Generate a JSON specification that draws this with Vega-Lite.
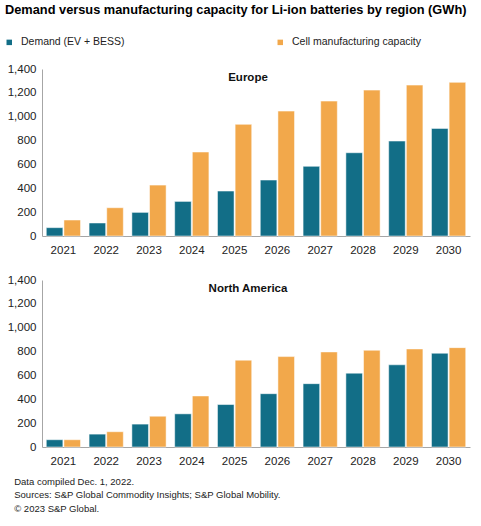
{
  "$schema": "https://vega.github.io/schema/vega-lite/v6.json",
  "padding": {"left": 4, "right": 6, "top": 4, "bottom": 5},
  "background": "white",
  "datasets": {
    "d": [
      {"region": "Europe", "year": "2021", "series": "Demand (EV + BESS)", "value": 70},
      {"region": "Europe", "year": "2022", "series": "Demand (EV + BESS)", "value": 109},
      {"region": "Europe", "year": "2023", "series": "Demand (EV + BESS)", "value": 198},
      {"region": "Europe", "year": "2024", "series": "Demand (EV + BESS)", "value": 290},
      {"region": "Europe", "year": "2025", "series": "Demand (EV + BESS)", "value": 377},
      {"region": "Europe", "year": "2026", "series": "Demand (EV + BESS)", "value": 469},
      {"region": "Europe", "year": "2027", "series": "Demand (EV + BESS)", "value": 584},
      {"region": "Europe", "year": "2028", "series": "Demand (EV + BESS)", "value": 698},
      {"region": "Europe", "year": "2029", "series": "Demand (EV + BESS)", "value": 796},
      {"region": "Europe", "year": "2030", "series": "Demand (EV + BESS)", "value": 902},
      {"region": "Europe", "year": "2021", "series": "Cell manufacturing capacity", "value": 134},
      {"region": "Europe", "year": "2022", "series": "Cell manufacturing capacity", "value": 237},
      {"region": "Europe", "year": "2023", "series": "Cell manufacturing capacity", "value": 427},
      {"region": "Europe", "year": "2024", "series": "Cell manufacturing capacity", "value": 704},
      {"region": "Europe", "year": "2025", "series": "Cell manufacturing capacity", "value": 936},
      {"region": "Europe", "year": "2026", "series": "Cell manufacturing capacity", "value": 1047},
      {"region": "Europe", "year": "2027", "series": "Cell manufacturing capacity", "value": 1131},
      {"region": "Europe", "year": "2028", "series": "Cell manufacturing capacity", "value": 1223},
      {"region": "Europe", "year": "2029", "series": "Cell manufacturing capacity", "value": 1265},
      {"region": "Europe", "year": "2030", "series": "Cell manufacturing capacity", "value": 1288},
      {"region": "North America", "year": "2021", "series": "Demand (EV + BESS)", "value": 61},
      {"region": "North America", "year": "2022", "series": "Demand (EV + BESS)", "value": 108},
      {"region": "North America", "year": "2023", "series": "Demand (EV + BESS)", "value": 192},
      {"region": "North America", "year": "2024", "series": "Demand (EV + BESS)", "value": 278},
      {"region": "North America", "year": "2025", "series": "Demand (EV + BESS)", "value": 356},
      {"region": "North America", "year": "2026", "series": "Demand (EV + BESS)", "value": 447},
      {"region": "North America", "year": "2027", "series": "Demand (EV + BESS)", "value": 531},
      {"region": "North America", "year": "2028", "series": "Demand (EV + BESS)", "value": 619},
      {"region": "North America", "year": "2029", "series": "Demand (EV + BESS)", "value": 689},
      {"region": "North America", "year": "2030", "series": "Demand (EV + BESS)", "value": 786},
      {"region": "North America", "year": "2021", "series": "Cell manufacturing capacity", "value": 61},
      {"region": "North America", "year": "2022", "series": "Cell manufacturing capacity", "value": 128},
      {"region": "North America", "year": "2023", "series": "Cell manufacturing capacity", "value": 258},
      {"region": "North America", "year": "2024", "series": "Cell manufacturing capacity", "value": 428},
      {"region": "North America", "year": "2025", "series": "Cell manufacturing capacity", "value": 728},
      {"region": "North America", "year": "2026", "series": "Cell manufacturing capacity", "value": 758},
      {"region": "North America", "year": "2027", "series": "Cell manufacturing capacity", "value": 797},
      {"region": "North America", "year": "2028", "series": "Cell manufacturing capacity", "value": 811},
      {"region": "North America", "year": "2029", "series": "Cell manufacturing capacity", "value": 822},
      {"region": "North America", "year": "2030", "series": "Cell manufacturing capacity", "value": 833}
    ]
  },
  "data": {"name": "d"},
  "title": {
    "text": "Demand versus manufacturing capacity for Li-ion batteries by region (GWh)",
    "anchor": "start",
    "frame": "bounds",
    "font": "Liberation Sans",
    "fontSize": 12.8,
    "fontWeight": "bold",
    "color": "#000000",
    "offset": 20,
    "dx": 1
  },
  "spacing": 18,
  "vconcat": [
    {
      "width": 428,
      "height": 167,
      "transform": [{"filter": "datum.region === 'Europe'"}],
      "title": {"text": "Europe", "offset": -20, "dx": -8, "anchor": "middle", "frame": "group"},
      "mark": {"type": "bar", "stroke": "#ffffff", "strokeWidth": 1, "strokeOpacity": 0.5},
      "encoding": {
        "x": {"field": "year", "type": "nominal", "scale": {"paddingInner": 0.2, "paddingOuter": 0.1}, "axis": {"title": null, "labelAngle": 0}},
        "xOffset": {"field": "series", "type": "nominal", "sort": ["Demand (EV + BESS)", "Cell manufacturing capacity"], "scale": {"paddingInner": 0.06}},
        "y": {"field": "value", "type": "quantitative", "scale": {"domain": [0, 1400]}, "axis": {"title": null, "values": [0, 200, 400, 600, 800, 1000, 1200, 1400], "format": ",d"}},
        "color": {"field": "series", "type": "nominal", "scale": {"domain": ["Demand (EV + BESS)", "Cell manufacturing capacity"], "range": ["#126e87", "#f2a84b"]}, "legend": {"title": null, "orient": "none", "legendX": -38, "legendY": -32, "direction": "horizontal"}}
      }
    },
    {
      "title": {
        "text": ["Data compiled  Dec. 1, 2022.", "Sources: S&P Global Commodity Insights; S&P Global Mobility.", "© 2023 S&P Global."],
        "orient": "bottom",
        "anchor": "start",
        "frame": "bounds",
        "font": "Liberation Sans",
        "fontSize": 9.5,
        "fontWeight": "normal",
        "color": "#222222",
        "lineHeight": 13.5,
        "dx": 7,
        "offset": 10
      },
      "vconcat": [
        {
          "width": 428,
          "height": 167,
          "transform": [{"filter": "datum.region === 'North America'"}],
          "title": {"text": "North America", "offset": -20, "dx": -8, "anchor": "middle", "frame": "group"},
          "mark": {"type": "bar", "stroke": "#ffffff", "strokeWidth": 1, "strokeOpacity": 0.5},
          "encoding": {
            "x": {"field": "year", "type": "nominal", "scale": {"paddingInner": 0.2, "paddingOuter": 0.1}, "axis": {"title": null, "labelAngle": 0}},
            "xOffset": {"field": "series", "type": "nominal", "sort": ["Demand (EV + BESS)", "Cell manufacturing capacity"], "scale": {"paddingInner": 0.06}},
            "y": {"field": "value", "type": "quantitative", "scale": {"domain": [0, 1400]}, "axis": {"title": null, "values": [0, 200, 400, 600, 800, 1000, 1200, 1400], "format": ",d"}},
            "color": {"field": "series", "type": "nominal", "scale": {"domain": ["Demand (EV + BESS)", "Cell manufacturing capacity"], "range": ["#126e87", "#f2a84b"]}, "legend": {"title": null, "orient": "none", "legendX": -38, "legendY": -32, "direction": "horizontal"}}
          }
        }
      ]
    }
  ],
  "config": {
    "view": {"stroke": null},
    "font": "Liberation Sans",
    "axis": {
      "domainColor": "#a6a6a6",
      "domainWidth": 1,
      "ticks": false,
      "grid": false,
      "labelFont": "Liberation Sans",
      "labelFontSize": 11.5,
      "labelColor": "#222222"
    },
    "axisX": {"labelPadding": 8},
    "axisY": {"labelPadding": 6},
    "title": {"font": "Liberation Sans", "fontSize": 11.5, "fontWeight": "bold", "color": "#111111"},
    "legend": {
      "symbolType": "square",
      "symbolSize": 30,
      "symbolStrokeWidth": 0,
      "labelFont": "Liberation Sans",
      "labelFontSize": 10.5,
      "labelColor": "#222222",
      "labelOffset": 6.5,
      "columnPadding": 150,
      "offset": 14,
      "padding": 0
    }
  }
}
